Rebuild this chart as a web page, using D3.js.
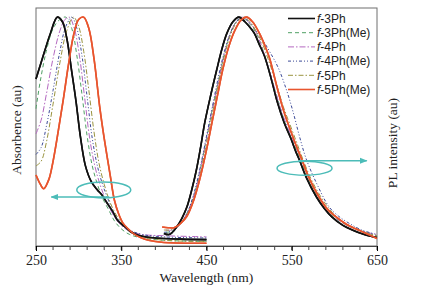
<!DOCTYPE html>
<html><head><meta charset="utf-8">
<script src="https://cdn.jsdelivr.net/npm/d3@7"></script>
<style>body{margin:0;background:#fff}svg{display:block}</style>
</head><body><svg id="c" width="424" height="295"></svg>
<script>
// ---- data (wavelength nm, normalized intensity) ----
const seriesNames = ["f-3Ph","f-3Ph(Me)","f-4Ph","f-4Ph(Me)","f-5Ph","f-5Ph(Me)"];
const xTicks = [250,350,450,550,650];

const abs_3Ph = [[250,0.73],[255,0.79],[260,0.85],[267,0.93],[275,1.0],[281,0.98],[286,0.91],[292,0.76],[297,0.63],[302,0.48],[308,0.35],[315,0.28],[322,0.245],[328,0.22],[333,0.19],[340,0.15],[346,0.11],[354,0.085],[362,0.06],[372,0.045],[390,0.035],[420,0.03],[450,0.028]];
const abs_3PhMe = [[250,0.6],[255,0.72],[262,0.85],[270,0.95],[278,0.99],[285,1.0],[292,0.95],[298,0.83],[304,0.66],[310,0.48],[316,0.35],[322,0.27],[328,0.21],[335,0.16],[342,0.11],[350,0.075],[360,0.05],[375,0.035],[400,0.025],[450,0.02]];
const abs_4Ph = [[250,0.49],[256,0.55],[262,0.66],[270,0.82],[278,0.94],[284,0.99],[289,1.0],[295,0.95],[301,0.83],[307,0.65],[313,0.47],[319,0.35],[325,0.27],[332,0.2],[340,0.14],[350,0.09],[360,0.065],[375,0.05],[400,0.045],[450,0.04]];
const abs_4PhMe = [[250,0.4],[256,0.43],[262,0.52],[270,0.68],[278,0.85],[285,0.96],[292,1.0],[298,0.95],[304,0.83],[310,0.65],[316,0.47],[322,0.35],[328,0.27],[335,0.2],[342,0.14],[350,0.1],[360,0.07],[375,0.05],[400,0.04],[450,0.035]];
const abs_5Ph = [[250,0.35],[256,0.37],[262,0.45],[270,0.62],[278,0.8],[286,0.94],[294,1.0],[300,0.96],[306,0.85],[312,0.68],[318,0.5],[324,0.36],[330,0.27],[337,0.19],[345,0.13],[353,0.09],[362,0.06],[375,0.04],[400,0.025],[450,0.02]];
const abs_5PhMe = [[250,0.31],[255,0.27],[259,0.25],[265,0.29],[270,0.37],[276,0.5],[282,0.64],[288,0.79],[294,0.92],[300,0.99],[306,1.0],[312,0.95],[318,0.82],[325,0.6],[330,0.47],[337,0.31],[342,0.2],[347,0.14],[352,0.1],[358,0.075],[364,0.055],[372,0.038],[382,0.025],[400,0.015],[450,0.012]];

const pl_3Ph = [[400,0.055],[406,0.05],[410,0.06],[415,0.083],[421,0.12],[427,0.17],[433,0.25],[438,0.33],[443,0.43],[448,0.54],[455,0.66],[462,0.77],[468,0.86],[474,0.93],[481,0.98],[488,1.0],[495,0.98],[500,0.96],[506,0.93],[512,0.88],[518,0.83],[526,0.73],[533,0.63],[541,0.54],[549,0.47],[555,0.41],[559,0.376],[567,0.30],[579,0.214],[588,0.165],[597,0.127],[610,0.09],[621,0.07],[635,0.05],[650,0.037]];
const pl_3PhMe = [[402,0.06],[410,0.065],[420,0.1],[428,0.15],[436,0.23],[443,0.34],[450,0.47],[457,0.6],[464,0.72],[471,0.84],[478,0.93],[485,0.98],[491,1.0],[498,0.98],[505,0.95],[512,0.9],[520,0.81],[528,0.71],[536,0.61],[544,0.52],[552,0.45],[560,0.38],[570,0.29],[582,0.21],[595,0.145],[610,0.1],[625,0.075],[640,0.055],[650,0.045]];
const pl_4Ph = [[402,0.07],[410,0.07],[420,0.1],[428,0.15],[436,0.23],[443,0.34],[450,0.47],[457,0.6],[464,0.72],[471,0.84],[478,0.93],[485,0.98],[492,1.0],[499,0.98],[506,0.95],[513,0.89],[521,0.8],[529,0.7],[537,0.6],[545,0.52],[553,0.45],[561,0.38],[571,0.29],[583,0.21],[596,0.145],[610,0.1],[625,0.075],[640,0.058],[650,0.05]];
const pl_4PhMe = [[400,0.06],[410,0.065],[420,0.1],[428,0.15],[436,0.24],[443,0.35],[450,0.48],[457,0.61],[464,0.74],[471,0.85],[478,0.93],[485,0.98],[492,1.0],[500,0.98],[508,0.94],[516,0.9],[524,0.85],[534,0.78],[544,0.68],[552,0.58],[559,0.48],[567,0.38],[579,0.275],[594,0.17],[605,0.13],[617,0.1],[632,0.07],[650,0.05]];
const pl_5Ph = [[400,0.07],[410,0.072],[420,0.1],[428,0.14],[436,0.22],[443,0.32],[450,0.45],[457,0.58],[464,0.71],[471,0.83],[478,0.92],[486,0.98],[494,1.0],[501,0.98],[508,0.94],[515,0.89],[522,0.82],[531,0.72],[540,0.61],[548,0.53],[556,0.45],[564,0.37],[573,0.29],[585,0.21],[598,0.145],[612,0.1],[626,0.075],[640,0.055],[650,0.045]];
const pl_5PhMe = [[398,0.083],[405,0.08],[412,0.08],[420,0.1],[427,0.13],[435,0.2],[442,0.29],[450,0.42],[457,0.55],[463,0.66],[469,0.77],[476,0.87],[483,0.94],[490,0.985],[497,1.0],[504,0.98],[512,0.93],[518,0.88],[524,0.82],[533,0.69],[541,0.585],[549,0.5],[555,0.44],[562,0.376],[570,0.3],[582,0.214],[592,0.16],[602,0.127],[614,0.095],[625,0.075],[637,0.055],[650,0.033]];

const absData = [abs_3Ph, abs_3PhMe, abs_4Ph, abs_4PhMe, abs_5Ph, abs_5PhMe];
const plData = [pl_3Ph, pl_3PhMe, pl_4Ph, pl_4PhMe, pl_5Ph, pl_5PhMe];

// ---- styles ----
const colors = ["#111111","#4fa064","#b468c0","#3c4a98","#9a9440","#e8552e"];
const dashes = [null,"4,3","6,2,1.5,2","3,2,1,2,1,2","5,2,1.5,2",null];
const widths = [1.6,1,1,1,1,1.6];

const W=424,H=295, m={l:36,r:47,t:8,b:49};
const svg=d3.select("#c");
const x=d3.scaleLinear().domain([250,650]).range([m.l,W-m.r]);
const y=d3.scaleLinear().domain([0,1.04]).range([H-m.b,m.t]);
const line=d3.line().x(d=>x(d[0])).y(d=>y(d[1])).curve(d3.curveCatmullRom.alpha(0.5));

// frame
svg.append("rect").attr("x",m.l).attr("y",m.t).attr("width",W-m.l-m.r).attr("height",H-m.t-m.b)
  .attr("fill","none").attr("stroke","#6e6e6e").attr("stroke-width",1);

// x axis
const minor=d3.range(250,651,20);
const gx=svg.append("g").attr("transform",`translate(0,${H-m.b})`);
gx.selectAll("line.mn").data(minor).join("line").attr("x1",d=>x(d)).attr("x2",d=>x(d)).attr("y1",0).attr("y2",4).attr("stroke","#444");
gx.call(d3.axisBottom(x).tickValues(xTicks).tickSize(5).tickPadding(4).tickFormat(d3.format("d")))
  .call(g=>g.select(".domain").attr("stroke","#444"))
  .call(g=>g.selectAll("text").attr("font-family","'Liberation Serif','Times New Roman',serif").attr("font-size",14).attr("fill","#222"));

// labels
const serif="'Liberation Serif','Times New Roman',serif";
svg.append("text").attr("x",(x(250)+x(650))/2).attr("y",282).attr("text-anchor","middle")
  .attr("font-family",serif).attr("font-size",13.5).attr("fill","#222").text("Wavelength (nm)");
svg.append("text").attr("transform","translate(21,130) rotate(-90)").attr("text-anchor","middle")
  .attr("font-family",serif).attr("font-size",13.5).attr("fill","#222").text("Absorbence (au)");
svg.append("text").attr("transform","translate(397,143) rotate(-90)").attr("text-anchor","middle")
  .attr("font-family",serif).attr("font-size",13.5).attr("fill","#222").text("PL intensity (au)");

// curves
const gc=svg.append("g");
[absData,plData].forEach(set=>{
  set.forEach((d,i)=>{
    gc.append("path").attr("d",line(d)).attr("fill","none").attr("stroke",colors[i])
      .attr("stroke-width",widths[i]).attr("stroke-dasharray",dashes[i]);
  });
});
// redraw solid lines on top
[absData,plData].forEach(set=>{
  [0,5].forEach(i=>{
    gc.append("path").attr("d",line(set[i])).attr("fill","none").attr("stroke",colors[i]).attr("stroke-width",widths[i]);
  });
});

// annotations (ellipses + arrows)
const teal="#4cbcb8";
const defs=svg.append("defs");
defs.append("marker").attr("id","ah").attr("viewBox","0 0 10 10").attr("refX",9).attr("refY",5)
  .attr("markerWidth",5).attr("markerHeight",5).attr("orient","auto")
  .append("path").attr("d","M0,1 L10,5 L0,9 Z").attr("fill",teal);
const ann=[{cx:329.5,cy:0.245,rx:27,ry:8,ax1:336,ax2:268,ay:0.214},
           {cx:565,cy:0.34,rx:27.5,ry:7,ax1:558,ax2:638,ay:0.372}];
ann.forEach(a=>{
  svg.append("ellipse").attr("cx",x(a.cx)).attr("cy",y(a.cy)).attr("rx",a.rx).attr("ry",a.ry)
    .attr("fill","none").attr("stroke",teal).attr("stroke-width",1.5);
  svg.append("line").attr("x1",x(a.ax1)).attr("x2",x(a.ax2)).attr("y1",y(a.ay)).attr("y2",y(a.ay))
    .attr("stroke",teal).attr("stroke-width",1.5).attr("marker-end","url(#ah)");
});

// legend
const lg=svg.append("g");
seriesNames.forEach((n,i)=>{
  const yy=18.5+i*14.2;
  lg.append("line").attr("x1",288).attr("x2",315).attr("y1",yy).attr("y2",yy).attr("stroke",colors[i])
    .attr("stroke-width",widths[i]).attr("stroke-dasharray",dashes[i]);
  const t=lg.append("text").attr("x",317).attr("y",yy+4.3).attr("font-family","'Liberation Sans',Arial,sans-serif")
    .attr("font-size",12).attr("fill","#222");
  t.append("tspan").attr("font-style","italic").text(n.slice(0,1));
  t.append("tspan").text(n.slice(1));
});
</script></body></html>
